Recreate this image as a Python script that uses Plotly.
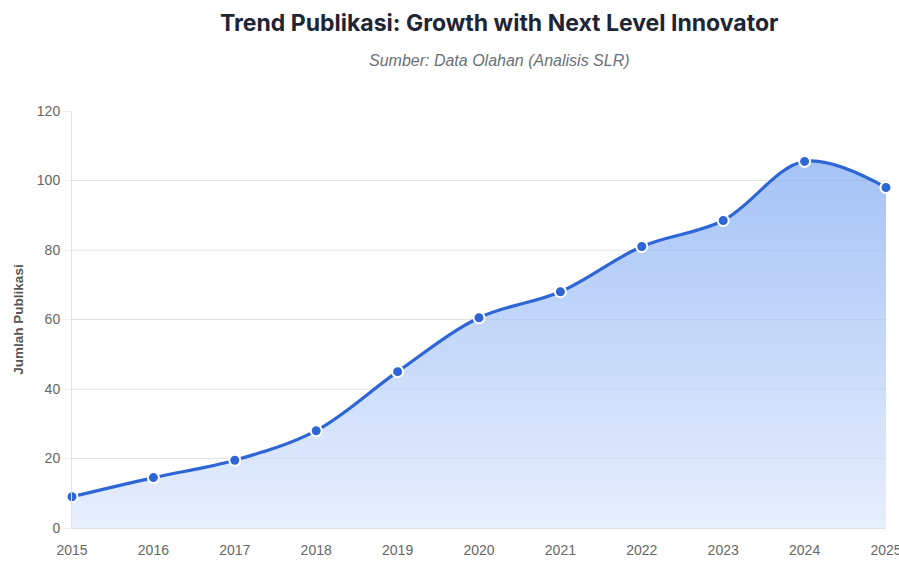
import plotly.graph_objects as go

years = [2015, 2016, 2017, 2018, 2019, 2020, 2021, 2022, 2023, 2024, 2025]
publikasi = [9, 14.5, 19.5, 28, 45, 60.5, 68, 81, 88.5, 105.5, 98]
y_ticks = [0, 20, 40, 60, 80, 100, 120]

W, H = 899, 584
L, R, T, B = 72, 13, 111, 56
plot_w = W - L - R
plot_h = H - T - B


def px_x(x):
    return (x - L) / plot_w


def px_y(y):
    return (H - B - y) / plot_h


fig = go.Figure()
fig.add_trace(go.Scatter(
    x=years, y=publikasi,
    mode="lines+markers",
    line=dict(color="#2f66d6", width=3.2, shape="spline", smoothing=1.0),
    marker=dict(size=11, color="#2f66d6", line=dict(color="white", width=2)),
    fill="tozeroy",
    fillgradient=dict(type="vertical", start=0, stop=110,
                      colorscale=[[0, "rgba(232,239,253,1)"], [1, "rgba(162,193,246,1)"]]),
    hoverinfo="x+y",
    showlegend=False,
    cliponaxis=False,
))

# faint grid lines that show through the filled area, as in the reference
shapes = [
    dict(type="line", xref="paper", x0=0, x1=1, yref="y", y0=v, y1=v,
         line=dict(color="rgba(0,0,0,0.045)", width=1), layer="above")
    for v in y_ticks[1:-1]
]

fig.update_layout(
    width=W, height=H,
    margin=dict(l=L, r=R, t=T, b=B),
    paper_bgcolor="white", plot_bgcolor="white",
    font=dict(family="Liberation Sans, Arial, sans-serif", color="#666666", size=14),
    shapes=shapes,
    xaxis=dict(
        range=[2015, 2025], tickmode="array", tickvals=years,
        ticktext=[str(y) for y in years], automargin=False,
        showgrid=False, showline=True, linecolor="#e2e2e2", linewidth=1,
        ticks="", ticklabelstandoff=9, ticklabeloverflow="allow",
        tickfont=dict(size=14, color="#666666"), zeroline=False,
    ),
    yaxis=dict(
        range=[0, 120], tickmode="array", tickvals=y_ticks, automargin=False,
        showgrid=True, gridcolor="#eeeeee", gridwidth=1,
        showline=True, linecolor="#e2e2e2", linewidth=1,
        ticks="outside", ticklen=8, tickcolor="#eeeeee",
        tickfont=dict(size=14, color="#666666"), zeroline=False,
        title=dict(text="<b>Jumlah Publikasi</b>", font=dict(size=13.5, color="#555555"), standoff=10),
    ),
    annotations=[
        dict(text="<b>Trend Publikasi: Growth with Next Level Innovator</b>",
             x=px_x(499), y=px_y(23), xref="paper", yref="paper", yanchor="middle",
             xanchor="center", showarrow=False,
             font=dict(family="Inter, Liberation Sans, sans-serif", size=23, color="#1e2535")),
        dict(text="<i>Sumber: Data Olahan (Analisis SLR)</i>",
             x=px_x(499), y=px_y(60), xref="paper", yref="paper", yanchor="middle",
             xanchor="center", showarrow=False,
             font=dict(family="Liberation Sans, Arial, sans-serif", size=16, color="#6b6f78")),
    ],
)

fig.write_html("out.html")
